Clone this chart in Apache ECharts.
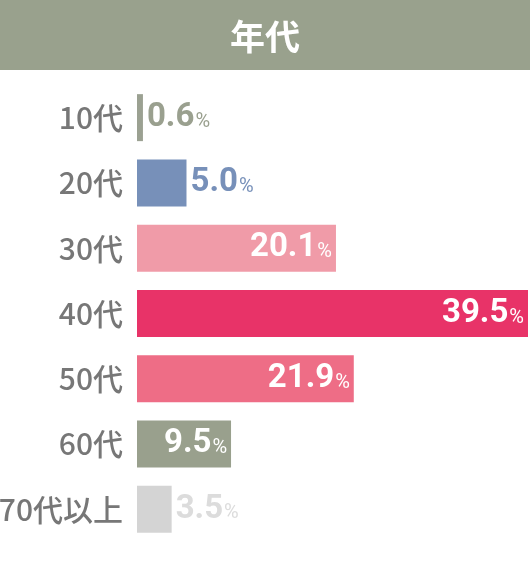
<!DOCTYPE html>
<html>
<head>
<meta charset="utf-8">
<script src="https://cdn.jsdelivr.net/npm/echarts@6/dist/echarts.min.js"></script>
<style>
html,body{margin:0;padding:0;background:#fff;}
#main{width:530px;height:580px;}
</style>
</head>
<body>
<div id="main"></div>
<script>
// 年代別の割合
var categories = ['10代', '20代', '30代', '40代', '50代', '60代', '70代以上'];
var values = [0.6, 5.0, 20.1, 39.5, 21.9, 9.5, 3.5];
var barColors = ['#9ba192', '#7790b9', '#f09ba8', '#e83368', '#ee6d86', '#99a08d', '#d4d4d4'];
var labelColors = ['#9aa08f', '#7790b9', '#fff', '#fff', '#fff', '#fff', '#dcdcdc'];
var insideLabel = [false, false, true, true, true, true, false];

var myChart = echarts.init(document.getElementById('main'));

var seriesData = [];
for (var i = 0; i < values.length; i++) {
    seriesData.push({
        value: values[i],
        itemStyle: { color: barColors[i] },
        label: {
            position: insideLabel[i] ? 'insideRight' : 'right',
            distance: 4,
            rich: {
                v: { color: labelColors[i], fontSize: 33, fontWeight: 'bold', fontFamily: 'Roboto' },
                p: { color: labelColors[i], fontSize: 20, fontFamily: 'Roboto', padding: [8, 0, 0, 1] }
            }
        }
    });
}

var option = {
    animation: false,
    graphic: [{
        type: 'rect',
        left: 0, top: 0,
        shape: { width: 530, height: 70 },
        style: { fill: '#99a18d' },
        z: -1
    }],
    title: {
        text: '年代',
        left: 'center',
        top: 14,
        textStyle: {
            color: '#fff',
            fontSize: 35,
            fontWeight: 'bold',
            fontFamily: 'Noto Sans CJK JP'
        }
    },
    grid: { left: 137, right: 2, top: 85, bottom: 38, outerBoundsMode: 'none', containLabel: false },
    xAxis: {
        type: 'value',
        min: 0,
        max: 39.5,
        show: false
    },
    yAxis: {
        type: 'category',
        data: categories,
        inverse: true,
        axisLine: { show: false },
        axisTick: { show: false },
        axisLabel: {
            margin: 14,
            color: '#777',
            fontSize: 30,
            fontWeight: 500,
            fontFamily: 'Noto Sans CJK JP'
        }
    },
    series: [{
        type: 'bar',
        data: seriesData,
        barWidth: 47,
        label: {
            show: true,
            formatter: function (p) {
                return '{v|' + p.value.toFixed(1) + '}{p|%}';
            }
        }
    }]
};

myChart.setOption(option);
window.addEventListener('resize', function () {
    myChart.resize();
});
</script>
</body>
</html>
